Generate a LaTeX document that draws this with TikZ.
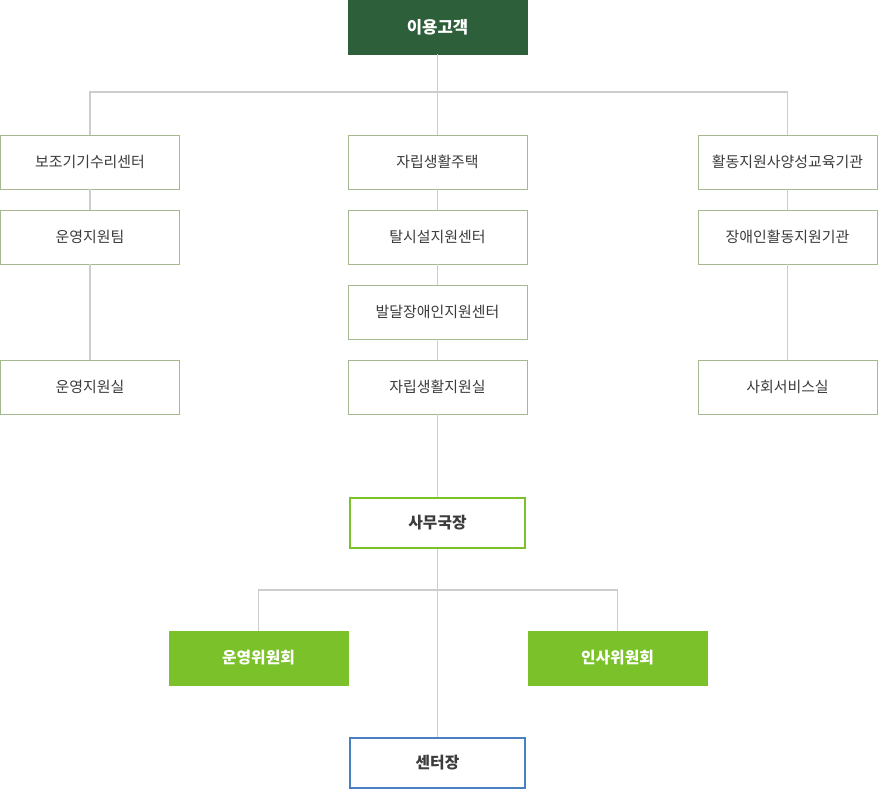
\documentclass[tikz,border=0pt]{standalone}
\usepackage{fontspec}
\setmainfont{Noto Sans CJK KR}
\usetikzlibrary{positioning}
\definecolor{topgreen}{RGB}{45,95,58}
\definecolor{limegreen}{RGB}{122,193,42}
\definecolor{boxline}{RGB}{165,185,145}
\definecolor{linkgray}{RGB}{205,205,205}
\definecolor{chiefblue}{RGB}{74,127,193}
\definecolor{textgray}{RGB}{60,60,60}
\tikzset{
    % unit box styles
    unitbox/.style={
        rectangle, draw=boxline, fill=white, text=textgray,
        minimum width=3.58cm, minimum height=1.08cm,
        font=\fontsize{8.5}{10}\selectfont, inner sep=0pt
    },
    headbox/.style={
        unitbox, draw=topgreen, fill=topgreen, text=white,
        font=\fontsize{9.5}{11}\selectfont\bfseries
    },
    officebox/.style={
        unitbox, draw=limegreen, line width=1.6pt,
        minimum width=3.5cm, minimum height=1.0cm,
        font=\fontsize{9}{11}\selectfont\bfseries
    },
    chiefbox/.style={
        officebox, draw=chiefblue
    },
    committeebox/.style={
        unitbox, draw=limegreen, fill=limegreen, text=white,
        font=\fontsize{9}{11}\selectfont\bfseries
    },
    link/.style={draw=linkgray, line width=0.6pt}
}
\begin{document}
\begin{tikzpicture}[x=0.02cm,y=-0.02cm]
\useasboundingbox (0,0) rectangle (878,790);

% top
\node[headbox] (client) at (437.5,27) {이용고객};

% left column
\node[unitbox] (aid) at (90,162) {보조기기수리센터};
\node[unitbox] (opteam) at (90,237) {운영지원팀};
\node[unitbox] (oproom) at (90,387) {운영지원실};

% center column
\node[unitbox] (living) at (437.5,162) {자립생활주택};
\node[unitbox] (facility) at (437.5,237) {탈시설지원센터};
\node[unitbox] (develop) at (437.5,312) {발달장애인지원센터};
\node[unitbox] (ilroom) at (437.5,387) {자립생활지원실};

% right column
\node[unitbox] (activity) at (787.5,162) {활동지원사양성교육기관};
\node[unitbox] (dsupport) at (787.5,237) {장애인활동지원기관};
\node[unitbox] (social) at (787.5,387) {사회서비스실};

% office
\node[officebox] (director) at (437.5,523) {사무국장};
\node[committeebox] (opcom) at (258.5,658) {운영위원회};
\node[committeebox] (hrcom) at (617.5,658) {인사위원회};
\node[chiefbox] (chief) at (437.5,763) {센터장};

\coordinate (split) at (437.5,92);
\coordinate (fork) at (437.5,590);

% links
\draw[link] (client) -- (living);
\draw[link] (aid.north) |- (split) -| (activity.north);
\draw[link] (aid) -- (opteam) -- (oproom);
\draw[link] (living) -- (facility) -- (develop) -- (ilroom) -- (director);
\draw[link] (activity) -- (dsupport) -- (social);
\draw[link] (director) -- (chief);
\draw[link] (opcom.north) |- (fork) -| (hrcom.north);
\end{tikzpicture}
\end{document}
